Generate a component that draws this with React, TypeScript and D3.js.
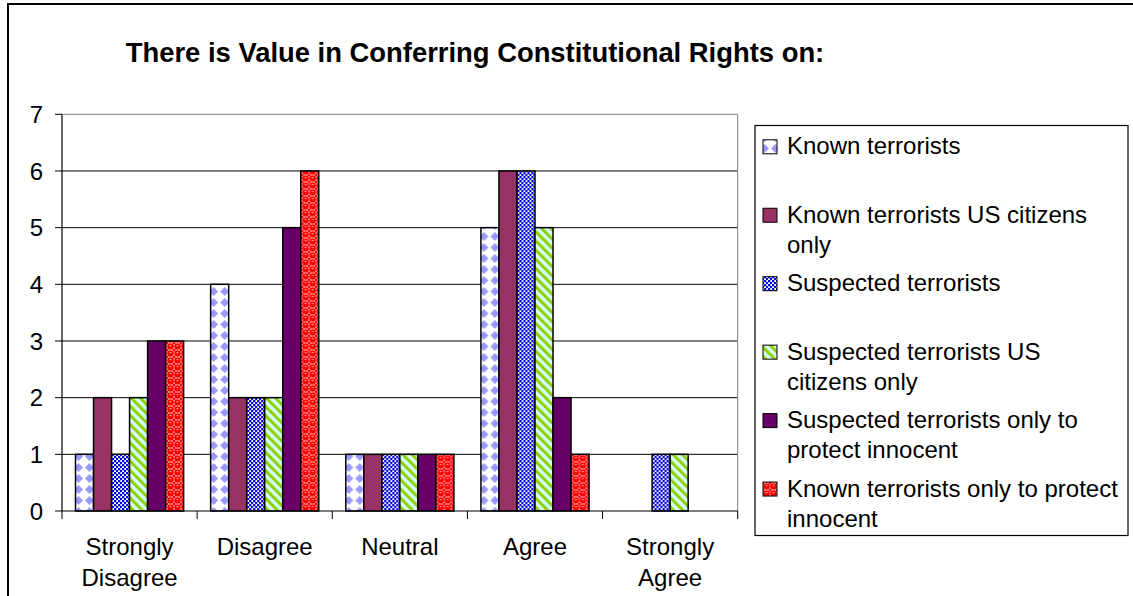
import React from "react";
import * as d3 from "d3";

const categories = ["Strongly Disagree", "Disagree", "Neutral", "Agree", "Strongly Agree"];
const categoryLines = [["Strongly", "Disagree"], ["Disagree"], ["Neutral"], ["Agree"], ["Strongly", "Agree"]];
const seriesNames = [
  "Known terrorists",
  "Known terrorists US citizens only",
  "Suspected terrorists",
  "Suspected terrorists US citizens only",
  "Suspected terrorists only to protect innocent",
  "Known terrorists only to protect innocent",
];
const legendLines = [
  ["Known terrorists"],
  ["Known terrorists US citizens", "only"],
  ["Suspected terrorists"],
  ["Suspected terrorists US", "citizens only"],
  ["Suspected terrorists only to", "protect innocent"],
  ["Known terrorists only to protect", "innocent"],
];
const knownTerrorists = [1, 4, 1, 5, 0];
const knownUSOnly = [2, 2, 1, 6, 0];
const suspected = [1, 2, 1, 6, 1];
const suspectedUSOnly = [2, 2, 1, 5, 1];
const suspectedProtect = [3, 5, 1, 2, 0];
const knownProtect = [3, 6, 1, 1, 0];
const seriesValues = [knownTerrorists, knownUSOnly, suspected, suspectedUSOnly, suspectedProtect, knownProtect];
const yTicks = [0, 1, 2, 3, 4, 5, 6, 7];
const fills = ["url(#p1)", "#993366", "url(#p3)", "url(#p4)", "#660066", "url(#p6)"];

const FONT = "'Liberation Sans', Arial, sans-serif";

export default function App() {
  const left = 62, right = 737.7, top = 114.3, bottom = 511;
  const x0 = d3.scaleBand<string>().domain(categories).range([left, right]).padding(0);
  const bw = x0.bandwidth();
  const inner = d3.scaleBand<string>().domain(seriesNames).range([bw / 10, bw - bw / 10]).padding(0);
  const y = d3.scaleLinear().domain([0, 7]).range([bottom, top]);

  const legendX = 755, legendY = 125.5, legendW = 373, legendH = 410;
  const legendBase0 = 154.3, legendStep = 68.45;

  return (
    <svg width={1133} height={596} style={{ position: "absolute", left: 0, top: 0, background: "#fff" }}>
      <defs>
        <pattern id="p1" width={11} height={11} patternUnits="userSpaceOnUse">
          <rect width={11} height={11} fill="#fff" />
          <path d="M5.5 1 L10 5.5 L5.5 10 L1 5.5 Z" fill="#9999FF" />
        </pattern>
        <pattern id="p3" width={4} height={4} patternUnits="userSpaceOnUse">
          <rect width={4} height={4} fill="#FFFFCC" />
          <rect x={0} y={0} width={2.3} height={2.3} fill="#0000FF" />
          <rect x={2} y={2} width={2.3} height={2.3} fill="#0000FF" />
        </pattern>
        <pattern id="p4" width={6.5} height={6.5} patternUnits="userSpaceOnUse" patternTransform="rotate(-45)">
          <rect width={6.5} height={6.5} fill="#CCFFFF" />
          <rect x={0} y={0} width={3} height={6.5} fill="#99CC00" />
        </pattern>
        <pattern id="p6" width={7} height={7} patternUnits="userSpaceOnUse">
          <rect width={7} height={7} fill="#fff" />
          <circle cx={3.5} cy={3.5} r={3.3} fill="#FF0000" />
          <circle cx={0} cy={0} r={1.6} fill="#FF0000" />
          <circle cx={7} cy={0} r={1.6} fill="#FF0000" />
          <circle cx={0} cy={7} r={1.6} fill="#FF0000" />
          <circle cx={7} cy={7} r={1.6} fill="#FF0000" />
          <ellipse cx={3.5} cy={2.6} rx={1.2} ry={0.7} fill="#FFB0B0" />
        </pattern>
      </defs>

      {/* outer chart border */}
      <rect x={8} y={4} width={1140} height={610} fill="#fff" stroke="#000" strokeWidth={2} />

      {/* title */}
      <text x={475} y={61.5} textAnchor="middle" fontFamily={FONT} fontWeight="bold" fontSize={27.4} fill="#000">
        There is Value in Conferring Constitutional Rights on:
      </text>

      {/* gridlines */}
      {yTicks.filter((t) => t > 0 && t < 7).map((t) => (
        <line key={t} x1={left} x2={right} y1={y(t)} y2={y(t)} stroke="#000" strokeWidth={1} />
      ))}
      {/* plot area border (top/right) */}
      <line x1={left} x2={right} y1={y(7)} y2={y(7)} stroke="#808080" strokeWidth={1} />
      <line x1={right} x2={right} y1={y(7)} y2={bottom} stroke="#808080" strokeWidth={1} />

      {/* bars */}
      {categories.map((c, ci) => (
        <g key={c} transform={`translate(${x0(c)},0)`}>
          {seriesNames.map((s, si) => {
            const v = seriesValues[si][ci];
            if (!v) return null;
            return (
              <rect
                key={s}
                x={inner(s)}
                y={y(v)}
                width={inner.bandwidth()}
                height={bottom - y(v)}
                fill={fills[si]}
                stroke="#000"
                strokeWidth={1.5}
              />
            );
          })}
        </g>
      ))}

      {/* y axis */}
      <line x1={left} x2={left} y1={y(7)} y2={bottom} stroke="#000" strokeWidth={1.2} />
      {yTicks.map((t) => (
        <g key={t}>
          <line x1={left - 7} x2={left} y1={y(t)} y2={y(t)} stroke="#000" strokeWidth={1} />
          <text x={43} y={y(t)} dy="0.36em" textAnchor="end" fontFamily={FONT} fontSize={24} fill="#000">
            {t}
          </text>
        </g>
      ))}

      {/* x axis */}
      <line x1={left} x2={right} y1={bottom} y2={bottom} stroke="#000" strokeWidth={1.2} />
      {[...categories.map((c) => x0(c) as number), right].map((xv, i) => (
        <line key={i} x1={xv} x2={xv} y1={bottom} y2={bottom + 8} stroke="#000" strokeWidth={1} />
      ))}
      {categories.map((c, ci) => (
        <text key={c} x={(x0(c) as number) + bw / 2} y={554.5} textAnchor="middle" fontFamily={FONT} fontSize={24} fill="#000">
          {categoryLines[ci].map((ln, li) => (
            <tspan key={li} x={(x0(c) as number) + bw / 2} y={554.5 + li * 31.5}>
              {ln}
            </tspan>
          ))}
        </text>
      ))}

      {/* legend */}
      <rect x={legendX} y={legendY} width={legendW} height={legendH} fill="#fff" stroke="#000" strokeWidth={1.2} />
      {seriesNames.map((s, si) => {
        const base = legendBase0 + si * legendStep;
        return (
          <g key={s}>
            <rect x={763} y={base - 14.5} width={14} height={14} fill={fills[si]} stroke="#000" strokeWidth={1} />
            <text x={787} y={base} fontFamily={FONT} fontSize={24} fill="#000">
              {legendLines[si].map((ln, li) => (
                <tspan key={li} x={787} y={base + li * 30}>
                  {ln}
                </tspan>
              ))}
            </text>
          </g>
        );
      })}
    </svg>
  );
}
